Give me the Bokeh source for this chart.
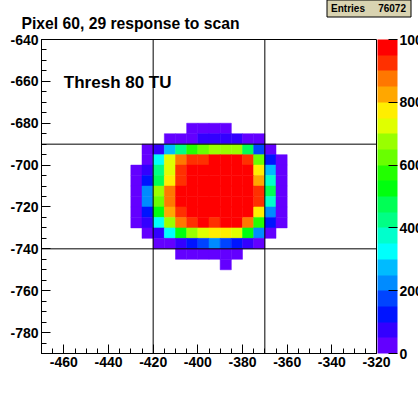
from bokeh.plotting import figure
from bokeh.models import (LinearColorMapper, ColorBar, FixedTicker, Span, Label,
                          ColumnDataSource, Range1d)
from bokeh.transform import transform
from bokeh.embed import file_html
from bokeh.resources import INLINE

# ---------------- data ----------------
title_text = "Pixel 60, 29 response to scan"
note_text = "Thresh 80 TU"
entries_label = "Entries"
entries_value = "76072"

x_lim = [-470, -320]
y_lim = [-790, -640]
bin_w = 5

x_major = [-460, -440, -420, -400, -380, -360, -340, -320]
y_major = [-780, -760, -740, -720, -700, -680, -660, -640]
z_ticks = [0, 200, 400, 600, 800, 1000]
z_lim = [0, 1000]

guide_x = [-420, -370]
guide_y = [-690, -740]

# rows of the histogram: lower y edge, lower x edge of first filled bin, bin contents
row_y = [-685, -690, -695, -700, -705, -710, -715, -720, -725, -730, -735, -740, -745, -750]
row_x0 = [-405, -415, -425, -425, -430, -430, -430, -430, -430, -430, -425, -420, -410, -390]
row_685 = [25, 25, 25, 25]
row_690 = [25, 25, 25, 75, 75, 75, 75, 25, 25]
row_695 = [25, 75, 275, 425, 575, 625, 675, 675, 675, 475, 175, 25]
row_700 = [25, 325, 725, 875, 925, 925, 1000, 1000, 1000, 925, 625, 125, 25]
row_705 = [25, 75, 425, 725, 925, 1000, 1000, 1000, 1000, 1000, 1000, 775, 275, 25]
row_710 = [25, 125, 475, 775, 925, 1000, 1000, 1000, 1000, 1000, 1000, 825, 375, 25]
row_715 = [25, 225, 675, 875, 1000, 1000, 1000, 1000, 1000, 1000, 1000, 925, 475, 25]
row_720 = [25, 225, 625, 875, 1000, 1000, 1000, 1000, 1000, 1000, 1000, 925, 375, 25]
row_725 = [25, 125, 525, 825, 925, 1000, 1000, 1000, 1000, 1000, 1000, 775, 225, 25]
row_730 = [25, 75, 325, 675, 875, 925, 1000, 925, 1000, 1000, 875, 575, 125, 25]
row_735 = [25, 75, 325, 525, 675, 725, 775, 775, 725, 525, 225, 25]
row_740 = [25, 25, 75, 125, 175, 225, 175, 125, 75, 25]
row_745 = [25, 25, 25, 25, 25, 25]
row_750 = [25]
row_vals = [row_685, row_690, row_695, row_700, row_705, row_710, row_715,
            row_720, row_725, row_730, row_735, row_740, row_745, row_750]

palette = ["#6300ff", "#3300ff", "#0014ff", "#0044ff", "#008bff", "#00bbff",
           "#00fffc", "#00ffcc", "#00ff85", "#00ff55", "#00ff0e", "#22ff00",
           "#69ff00", "#99ff00", "#e0ff00", "#ffee00", "#ffa700", "#ff7700",
           "#ff3000", "#ff0000"]

# ---------------- build table ----------------
xs, ys, vs = [], [], []
for yl, x0, vals in zip(row_y, row_x0, row_vals):
    for i, v in enumerate(vals):
        xs.append(x0 + i * bin_w + bin_w / 2)
        ys.append(yl + bin_w / 2)
        vs.append(v)
src = ColumnDataSource(dict(x=xs, y=ys, v=vs))

FONT = "Liberation Sans"

p = figure(width=418, height=393,
           x_range=Range1d(*x_lim), y_range=Range1d(*y_lim),
           output_backend="svg", toolbar_location=None,
           min_border_left=41, min_border_right=42,
           min_border_top=39, min_border_bottom=40)
p.background_fill_color = "white"
p.border_fill_color = "white"
p.outline_line_color = "black"
p.outline_line_alpha = 1
p.outline_line_width = 1
p.grid.visible = False

p.title.text = title_text
p.title.align = "left"
p.title.offset = -20
p.title.standoff = 16
p.title.vertical_align = "bottom"
p.title.text_font = FONT
p.title.text_font_style = "bold"
p.title.text_font_size = "15.7px"
p.title.text_color = "black"

mapper = LinearColorMapper(palette=palette, low=z_lim[0], high=z_lim[1])

p.rect(x="x", y="y", width=bin_w, height=bin_w, source=src,
       fill_color=transform("v", mapper), line_color=transform("v", mapper),
       line_width=0.5)

for gx in guide_x:
    p.add_layout(Span(location=gx, dimension="height", line_color="black", line_width=1))
for gy in guide_y:
    p.add_layout(Span(location=gy, dimension="width", line_color="black", line_width=1))

x_minor = list(range(x_lim[0], x_lim[1] + 1, bin_w))
y_minor = list(range(y_lim[0], y_lim[1] + 1, bin_w))
p.xaxis.ticker = FixedTicker(ticks=x_major, minor_ticks=x_minor)
p.yaxis.ticker = FixedTicker(ticks=y_major, minor_ticks=y_minor)
p.xaxis.major_label_overrides = {v: str(v) for v in x_major}
p.yaxis.major_label_overrides = {v: str(v) for v in y_major}
for ax in (p.xaxis, p.yaxis):
    ax.axis_line_color = "black"
    ax.major_tick_line_color = "black"
    ax.minor_tick_line_color = "black"
    ax.major_tick_out = 0
    ax.minor_tick_out = 0
    ax.major_label_text_font = FONT
    ax.major_label_text_font_style = "bold"
    ax.major_label_text_font_size = "14px"
    ax.major_label_text_color = "black"
p.xaxis.major_tick_in = 9
p.xaxis.minor_tick_in = 5
p.yaxis.major_tick_in = 9
p.yaxis.minor_tick_in = 5
p.xaxis.major_label_standoff = 3
p.yaxis.major_label_standoff = 3

# palette (z) scale
cb = ColorBar(color_mapper=mapper, ticker=FixedTicker(ticks=z_ticks),
              major_label_overrides={v: str(v) for v in z_ticks},
              width=20, height=314, location=(336, 0), padding=0, margin=0,
              label_standoff=2, major_tick_in=9, major_tick_out=0,
              major_tick_line_color="black", bar_line_color=None,
              border_line_color=None, background_fill_alpha=0,
              major_label_text_font=FONT, major_label_text_font_style="bold",
              major_label_text_font_size="14px", major_label_text_color="black")
p.add_layout(cb)

# statistics box (drawn as a bare colour-bar box so it may sit outside the frame)
stats_mapper = LinearColorMapper(palette=["#d9d3b1"], low=0, high=1)
stats_pos = [0.25, 0.775]
stats = ColorBar(color_mapper=stats_mapper, orientation="horizontal",
                 ticker=FixedTicker(ticks=stats_pos),
                 major_label_overrides={stats_pos[0]: entries_label,
                                        stats_pos[1]: entries_value},
                 width=84, height=1, location=(285.5, 336.5),
                 padding=0, margin=0, label_standoff=2,
                 scale_alpha=0, bar_line_color=None,
                 major_tick_line_color=None, minor_tick_line_color=None,
                 background_fill_color="#d9d3b1", background_fill_alpha=1,
                 border_line_color="black", border_line_alpha=1, border_line_width=1,
                 major_label_text_font=FONT, major_label_text_font_style="bold",
                 major_label_text_font_size="10px", major_label_text_color="black")
p.add_layout(stats)

p.add_layout(Label(x=-460, y=-660.4, text=note_text, text_font=FONT,
                   text_font_style="bold", text_font_size="17px",
                   text_color="black", text_baseline="alphabetic"))

open("out.html", "w").write(file_html(p, INLINE))
